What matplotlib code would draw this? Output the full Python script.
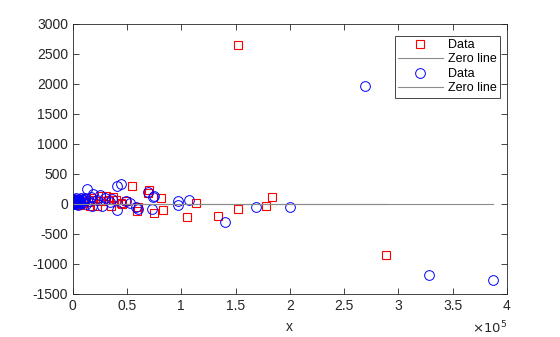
import matplotlib
matplotlib.use('Agg')
import matplotlib.pyplot as plt
from matplotlib.ticker import FuncFormatter, MultipleLocator

plt.rcParams['font.family'] = ['Liberation Sans', 'DejaVu Sans']
plt.rcParams['font.size'] = 10

# residuals of the first fit (red squares)
red_x = [152000, 289000, 184000, 178000, 152000, 134000, 114000, 105000, 83000, 81000,
         75000, 70000, 69000, 55000, 59000, 49000, 44000, 40000, 37000, 35000,
         31000, 28000, 25000, 22000, 19000, 17000, 14000, 12000, 9000, 7000,
         5000, 4000, 3000, 2000, 1500, 1000, 600, 300, 60000, 45000,
         33000, 26000, 16000, 10000]
red_y = [2650, -850, 115, -40, -80, -200, 20, -220, -100, 100,
         -150, 230, 180, 300, -120, 40, 20, 70, 110, -30,
         130, 40, 50, -40, 60, 90, 30, 100, 50, -20,
         40, 80, 20, 30, -10, 60, 10, 40, -60, -10,
         60, 130, -30, 20]

# residuals of the second fit (blue circles)
blue_x = [269000, 328000, 387000, 200000, 169000, 140000, 107000, 97000, 97000, 75000,
          73000, 69000, 74000, 60000, 58000, 53000, 49000, 44000, 41000, 41000,
          36000, 34000, 30000, 27000, 25000, 22000, 19000, 17000, 15000, 13000,
          12000, 10000, 8000, 7000, 6000, 5000, 4000, 3000, 2500, 2000,
          1500, 1000, 500, 300, 100, 18000, 11000, 9000, 6500, 3500,
          1200, 2200, 4500, 800, 3200, 5500, 7500]
blue_y = [1970, -1190, -1270, -50, -50, -300, 70, 50, -20, 130,
          -80, 200, 120, -90, -60, 20, 40, 330, 290, -100,
          80, 30, 100, -40, 140, 60, 160, 120, 40, 250,
          -10, 70, 100, 40, 80, -20, 60, 30, 100, 50,
          20, 80, 40, 10, 30, -30, 90, 60, 10, 70,
          0, 20, 10, 60, -10, 40, 20]

axcol = (0.15, 0.15, 0.15)

fig = plt.figure(figsize=(5.6, 3.37), dpi=100)
ax = fig.add_axes([0.130, 0.128, 0.775, 0.801])

ax.plot(red_x, red_y, 's', color='red', mfc='none', ms=5.5, mew=0.8, label='Data')
ax.plot([min(red_x), max(red_x)], [0, 0], '-', color='0.55', lw=0.8, label='Zero line')
ax.plot(blue_x, blue_y, 'o', color='blue', mfc='none', ms=7, mew=0.7, label='Data')
ax.plot([min(blue_x), max(blue_x)], [0, 0], '-', color='0.55', lw=0.8, label='Zero line')

ax.set_xlim(0, 400000)
ax.set_ylim(-1500, 3000)
ax.xaxis.set_major_locator(MultipleLocator(50000))
ax.yaxis.set_major_locator(MultipleLocator(500))
ax.xaxis.set_major_formatter(FuncFormatter(lambda v, p: '%g' % (v / 1e5)))
ax.yaxis.set_major_formatter(FuncFormatter(lambda v, p: '%g' % v))

ax.tick_params(direction='in', top=True, right=True, length=4, width=0.6,
               colors=axcol, labelcolor=axcol, labelsize=10)
for s in ax.spines.values():
    s.set_color(axcol)
    s.set_linewidth(0.6)

ax.set_xlabel('x', color=axcol, labelpad=5)
ax.text(1.0, -0.095, r'$\times10^5$', transform=ax.transAxes, ha='right', va='top',
        color=axcol, fontsize=9.5)

leg = ax.legend(loc='upper right', bbox_to_anchor=(0.984, 0.956), borderaxespad=0,
                fancybox=False, edgecolor=axcol, framealpha=1,
                handlelength=3.6, labelspacing=0.2,
                borderpad=0.25, handletextpad=0.4, fontsize=9)
leg.get_frame().set_linewidth(0.6)

fig.savefig('out.png', dpi=100)
